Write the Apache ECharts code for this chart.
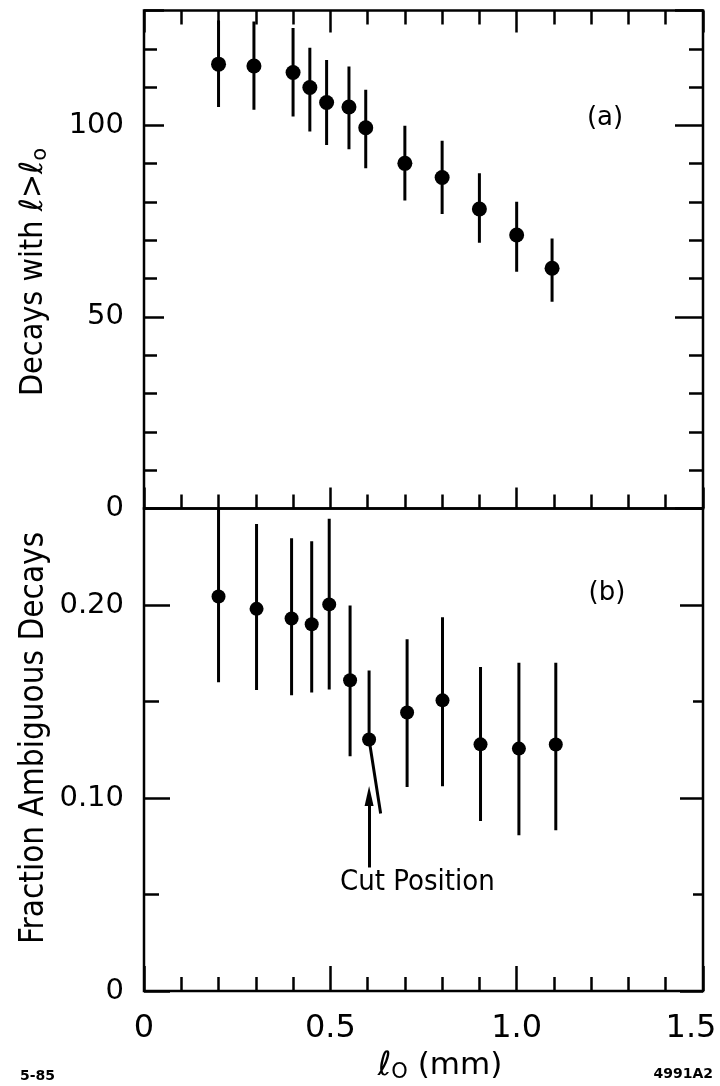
<!DOCTYPE html>
<html><head><meta charset="utf-8">
<script src="https://cdn.jsdelivr.net/npm/echarts@6/dist/echarts.min.js"></script>
<style>html,body{margin:0;padding:0;background:#fff}#c{width:720px;height:1086px}</style>
</head><body><div id="c"></div>
<script>
// ---- data (top panel a) ----
var xTop    = [0.2, 0.295, 0.4, 0.445, 0.49, 0.55, 0.595, 0.7, 0.8, 0.9, 1.0, 1.095];
var yTop    = [116.0, 115.5, 113.8, 109.9, 106.0, 104.8, 99.4, 90.1, 86.4, 78.2, 71.4, 62.7];
var yTopHi  = [127.4, 127.1, 125.4, 120.3, 117.1, 115.4, 109.3, 99.9, 96.0, 87.5, 80.1, 70.5];
var yTopLo  = [104.8, 104.1, 102.3, 98.4, 94.9, 93.8, 88.8, 80.4, 76.9, 69.4, 61.8, 54.0];
// ---- data (bottom panel b) ----
var xBot    = [0.2, 0.302, 0.396, 0.45, 0.497, 0.553, 0.604, 0.706, 0.801, 0.903, 1.006, 1.105];
var yBot    = [0.2044, 0.198, 0.193, 0.190, 0.2003, 0.161, 0.1303, 0.1443, 0.1506, 0.1278, 0.1256, 0.1277];
var yBotHi  = [0.25, 0.242, 0.2346, 0.233, 0.2447, 0.1998, 0.1661, 0.1822, 0.1937, 0.1679, 0.1701, 0.1701];
var yBotLo  = [0.160, 0.156, 0.1532, 0.1546, 0.1562, 0.1216, 0.1303, 0.1057, 0.1061, 0.0881, 0.0807, 0.0833];
// slanted lower error bar of the cut point, and the "Cut Position" arrow
var cutBar   = [[0.604, 0.1303], [0.635, 0.092]];
var cutArrow = [[0.604, 0.064], [0.604, 0.101]];
// ---- tick labels ----
var topYLabels = [0, 50, 100];
var botYLabels = [0, 0.10, 0.20];
var xLabels    = [0, 0.5, 1.0, 1.5];

var chart = echarts.init(document.getElementById('c'), null, {renderer:'canvas'});
var FONT = "'DejaVu Sans', sans-serif";
var NARROW = "'DejaVu Sans Condensed', 'DejaVu Sans', sans-serif";
var K = '#000';

function tickAxis(grid, pos, min, max, interval, len, extra) {
  var o = {
    type:'value', gridIndex:grid, position:pos, min:min, max:max, interval:interval,
    axisLine:{show:false, onZero:false}, splitLine:{show:false},
    axisTick:{show:true, inside:true, length:len, lineStyle:{color:K, width:2.5}},
    axisLabel:{show:false}
  };
  if (extra) for (var k in extra) o[k] = extra[k];
  return o;
}
function near(v, arr){ for (var i=0;i<arr.length;i++) if (Math.abs(v-arr[i])<1e-6) return true; return false; }

var xAxes = [
  tickAxis(0,'top',0,1.5,0.1,14),
  tickAxis(0,'top',0,1.5,0.5,22),
  tickAxis(0,'bottom',0,1.5,0.1,14),
  tickAxis(0,'bottom',0,1.5,0.5,21),
  tickAxis(1,'bottom',0,1.5,0.1,14),
  tickAxis(1,'bottom',0,1.5,0.5,25,{
    axisLabel:{show:true, margin:22, color:K, fontSize:32, fontFamily:FONT,
      rich:{last:{fontSize:32, fontFamily:FONT, color:K, padding:[0,24,0,0]}},
      formatter:function(v){
        if(!near(v,xLabels)) return '';
        if (Math.abs(v-1.5)<1e-6) return '{last|1.5}';
        return v===0?'0':v.toFixed(1);} }
  })
];
var yAxes = [
  tickAxis(0,'left',0,130,10,13),
  tickAxis(0,'left',0,130,50,20,{
    axisLabel:{show:true, margin:20, color:K, fontSize:29, fontFamily:FONT,
      formatter:function(v){ return near(v,topYLabels)? String(v) : ''; } }
  }),
  tickAxis(0,'right',0,130,10,14),
  tickAxis(0,'right',0,130,50,28),
  tickAxis(1,'left',0,0.25,0.05,15),
  tickAxis(1,'left',0,0.25,0.1,26,{
    axisLabel:{show:true, margin:20, color:K, fontSize:29, fontFamily:FONT,
      formatter:function(v){ if(!near(v,botYLabels)) return ''; return v===0?'0':v.toFixed(2);} }
  }),
  tickAxis(1,'right',0,0.25,0.05,10),
  tickAxis(1,'right',0,0.25,0.1,23)
];

function errSeries(xs, lo, hi, xi, yi) {
  var d = xs.map(function(x,i){ return [x, lo[i], hi[i]]; });
  return {
    type:'custom', xAxisIndex:xi, yAxisIndex:yi, data:d, clip:true, silent:true,
    renderItem:function(params, api){
      var a = api.coord([api.value(0), api.value(1)]);
      var b = api.coord([api.value(0), api.value(2)]);
      return {type:'line', shape:{x1:a[0],y1:a[1],x2:b[0],y2:b[1]},
        style:{stroke:K, lineWidth:3}};
    }
  };
}
function pts(xs, ys, xi, yi, size) {
  return {type:'scatter', xAxisIndex:xi, yAxisIndex:yi, symbol:'circle', symbolSize:size,
    itemStyle:{color:K, opacity:1}, silent:true,
    data: xs.map(function(x,i){ return [x, ys[i]]; })};
}

var option = {
  animation:false,
  backgroundColor:'#fff',
  grid:[
    {left:144, right:17, top:10.5, height:498, show:true, borderColor:K, borderWidth:2.5,
      containLabel:false, outerBoundsMode:'none'},
    {left:144, right:17, top:508.5, height:482.5, show:true, borderColor:K, borderWidth:2.5,
      containLabel:false, outerBoundsMode:'none'}
  ],
  xAxis:xAxes,
  yAxis:yAxes,
  series:[
    errSeries(xTop, yTopLo, yTopHi, 0, 0),
    pts(xTop, yTop, 0, 0, 15),
    errSeries(xBot, yBotLo, yBotHi, 4, 4),
    pts(xBot, yBot, 4, 4, 14),
    {type:'line', xAxisIndex:4, yAxisIndex:4, data:cutBar, symbol:'none', silent:true,
      lineStyle:{color:K, width:3}},
    {type:'line', xAxisIndex:4, yAxisIndex:4, data:[], silent:true,
      markLine:{silent:true, symbol:['none','triangle'], symbolSize:[9,20], label:{show:false},
        lineStyle:{color:K, width:3, type:'solid'},
        data:[[{coord:cutArrow[0]},{coord:cutArrow[1]}]]}}
  ],
  graphic:[
    {type:'text', x:34, y:272, rotation:Math.PI/2,
      style:{text:'Decays with {l|ℓ}>{l|ℓ}{s|o}', fill:K, font:'32px '+NARROW, align:'center', verticalAlign:'middle',
        rich:{l:{fontSize:32, fontFamily:FONT, fill:K}, s:{fontSize:21, fontFamily:FONT, fill:K, padding:[13,0,0,0]}}}},
    {type:'text', x:34, y:738, rotation:Math.PI/2,
      style:{text:'Fraction Ambiguous Decays', fill:K, font:'33px '+NARROW, align:'center', verticalAlign:'middle'}},
    {type:'text', x:440, y:1066,
      style:{text:'{l|ℓ}{s|O} (mm)', fill:K, font:'31px '+FONT, align:'center', verticalAlign:'middle',
        rich:{l:{fontSize:33, fontFamily:FONT, fill:K}, s:{fontSize:21, fontFamily:FONT, fill:K, padding:[14,0,0,0]}}}},
    {type:'text', x:605, y:118, style:{text:'(a)', fill:K, font:'26px '+FONT, align:'center', verticalAlign:'middle'}},
    {type:'text', x:607, y:593, style:{text:'(b)', fill:K, font:'26px '+FONT, align:'center', verticalAlign:'middle'}},
    {type:'text', x:340, y:882, style:{text:'Cut Position', fill:K, font:'29px '+NARROW, align:'left', verticalAlign:'middle'}},
    {type:'text', x:20, y:1076, style:{text:'5-85', fill:K, font:'bold 14px '+FONT, align:'left', verticalAlign:'middle'}},
    {type:'text', x:713, y:1074, style:{text:'4991A2', fill:K, font:'bold 14px '+FONT, align:'right', verticalAlign:'middle'}}
  ]
};
chart.setOption(option);
</script>
</body></html>
